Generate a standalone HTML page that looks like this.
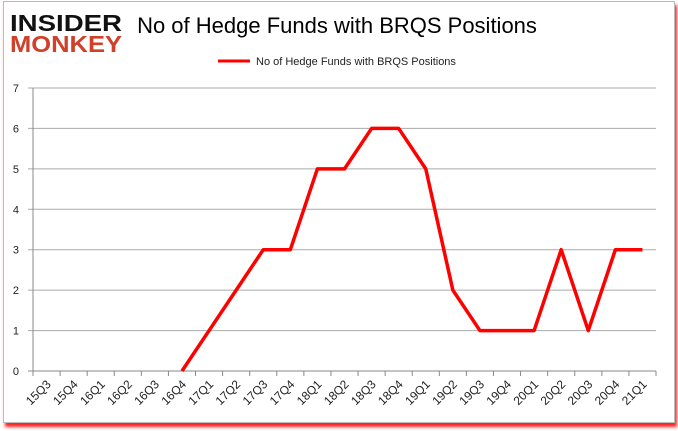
<!DOCTYPE html>
<html><head><meta charset="utf-8"><style>
body{margin:0;width:678px;height:431px;background:#fff;overflow:hidden;font-family:"Liberation Sans",sans-serif}
#frame{position:absolute;left:3px;top:1px;width:670px;height:420px;border:1px solid #bbb;box-shadow:2px 4px 3px #f22;background:#fff}
</style></head><body>
<div id="frame"></div>
<svg id="c" width="678" height="431" style="position:absolute;left:0;top:0">
<g>
<text x="10" y="31" font-size="23" font-weight="bold" fill="#111" textLength="112" lengthAdjust="spacingAndGlyphs">INSIDER</text>
<text x="10" y="52" font-size="23" font-weight="bold" fill="#d0402a" textLength="112" lengthAdjust="spacingAndGlyphs">MONKEY</text>
</g>
<text x="337" y="33" font-size="22" fill="#000" text-anchor="middle">No of Hedge Funds with BRQS Positions</text>
<line x1="218" y1="61" x2="250" y2="61" stroke="#f00" stroke-width="3"/>
<text x="256" y="65" font-size="11" fill="#222">No of Hedge Funds with BRQS Positions</text>
<g id="grid"></g><g id="axes"></g><g id="series"></g>
</svg>
<script>
const categories=["15Q3","15Q4","16Q1","16Q2","16Q3","16Q4","17Q1","17Q2","17Q3","17Q4","18Q1","18Q2","18Q3","18Q4","19Q1","19Q2","19Q3","19Q4","20Q1","20Q2","20Q3","20Q4","21Q1"];
const values=[null,null,null,null,null,0,1,2,3,3,5,5,6,6,5,2,1,1,1,3,1,3,3];
const yTicks=[0,1,2,3,4,5,6,7];
const L=33,R=656,T=88,B=371,YMAX=7;
const NS="http://www.w3.org/2000/svg";
const bw=(R-L)/categories.length;
const x=i=>L+(i+0.5)*bw;
const y=v=>B-(v/YMAX)*(B-T);
function mk(p,t,a){const e=document.createElementNS(NS,t);for(const k in a)e.setAttribute(k,a[k]);document.getElementById(p).appendChild(e);return e;}
yTicks.forEach(v=>{
 const g=mk('grid','line',{x1:L-5,x2:R,y1:y(v),y2:y(v),stroke:v===0?'#888':'#aaa','stroke-width':1});
 
 
 const t=mk('axes','text',{x:L-14,y:y(v)+4,'font-size':11,'text-anchor':'end',fill:'#222'});
 t.textContent=v;
 
 
});
const ya=mk('axes','line',{x1:L,x2:L,y1:T,y2:B,stroke:'#888'});


categories.forEach((c,i)=>{
 const tk=mk('axes','line',{x1:L+i*bw,x2:L+i*bw,y1:B,y2:B+5,stroke:'#888'});
 
 
 const t=mk('axes','text',{x:x(i)+5,y:B+14,'font-size':12,'text-anchor':'end',fill:'#222',transform:`rotate(-45 ${x(i)+5} ${B+14})`});
 t.textContent=c;
 
 
});
const tk=mk('axes','line',{x1:R,x2:R,y1:B,y2:B+5,stroke:'#888'});


let d='';values.forEach((v,i)=>{if(v===null)return;d+=(d?'L':'M')+x(i)+','+y(v);});
const p=mk('series','path',{d:d,fill:'none',stroke:'#f00','stroke-width':3.5,'stroke-linejoin':'round'});


</script>
</body></html>
